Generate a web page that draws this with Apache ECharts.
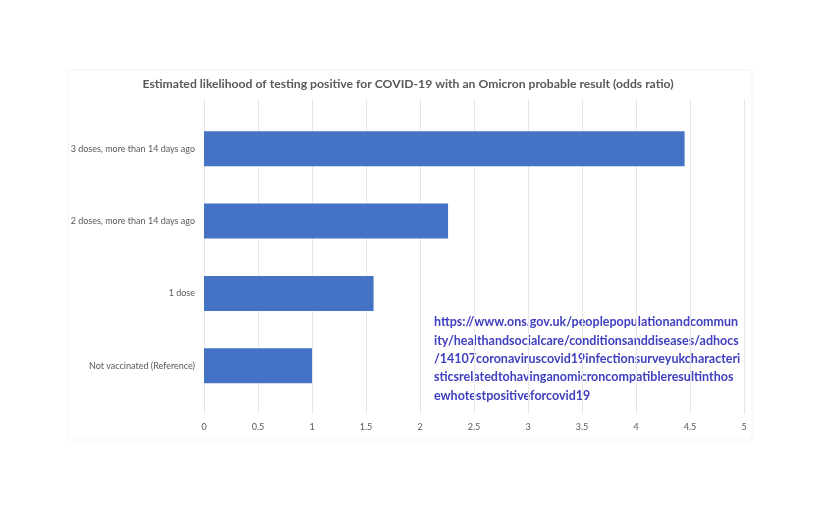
<!DOCTYPE html>
<html>
<head>
<meta charset="utf-8">
<script src="https://cdn.jsdelivr.net/npm/echarts@6/dist/echarts.min.js"></script>
<style>
  html, body { margin: 0; padding: 0; background: #fff; }
  #chart { width: 816px; height: 509px; }
</style>
</head>
<body>
<div id="chart"></div>
<script>
// 数据
const categories = [
    '3 doses, more than 14 days ago',
    '2 doses, more than 14 days ago',
    '1 dose',
    'Not vaccinated (Reference)'
];
const oddsRatio = [4.45, 2.26, 1.57, 1.0];
const xTicks = [0, 0.5, 1, 1.5, 2, 2.5, 3, 3.5, 4, 4.5, 5];

const sourceUrl = [
    'https://www.ons.gov.uk/peoplepopulationandcommun',
    'ity/healthandsocialcare/conditionsanddiseases/adhocs',
    '/14107coronaviruscovid19infectionsurveyukcharacteri',
    'sticsrelatedtohavinganomicroncompatibleresultinthos',
    'ewhotestpositiveforcovid19'
];

const chartDom = document.getElementById('chart');
const myChart = echarts.init(chartDom);

const textColor = '#595959';
const fontFamily = 'Lato, "Open Sans", sans-serif';

const option = {
    animation: false,
    backgroundColor: '#ffffff',
    title: {
        text: 'Estimated likelihood of testing positive for COVID-19 with an Omicron probable result (odds ratio)',
        left: 'center',
        top: 73,
        textStyle: {
            color: textColor,
            fontSize: 12.2,
            fontWeight: 'bold',
            fontFamily: fontFamily
        }
    },
    grid: [
        // 柱子
        { left: 204, right: 72, top: 112.6, height: 289.3 },
        // 网格线和刻度
        { left: 204, right: 72, top: 99, bottom: 95 }
    ],
    xAxis: [{
        gridIndex: 0,
        type: 'value',
        min: 0,
        max: 5,
        interval: 0.5,
        axisLine: { show: false },
        axisTick: { show: false },
        axisLabel: { show: false },
        splitLine: { show: false }
    }, {
        gridIndex: 1,
        type: 'value',
        min: xTicks[0],
        max: xTicks[xTicks.length - 1],
        interval: 0.5,
        axisLine: { show: false },
        axisTick: { show: false },
        axisLabel: {
            color: textColor,
            fontSize: 9,
            fontFamily: fontFamily,
            margin: 9
        },
        splitLine: {
            lineStyle: { color: '#e6e6e6', width: 1 }
        }
    }],
    yAxis: [{
        gridIndex: 0,
        type: 'category',
        data: categories,
        inverse: true,
        axisLine: { show: false },
        axisTick: { show: false },
        axisLabel: {
            color: textColor,
            fontSize: 9,
            fontFamily: fontFamily,
            margin: 9
        }
    }, {
        gridIndex: 1,
        type: 'value',
        min: 0,
        max: 1,
        show: false
    }],
    series: [{
        type: 'bar',
        xAxisIndex: 0,
        yAxisIndex: 0,
        data: oddsRatio,
        barWidth: 35,
        itemStyle: { color: '#4472C4' }
    }],
    graphic: [{
        type: 'rect',
        shape: { x: 68, y: 70, width: 684, height: 370 },
        style: { fill: 'none', stroke: '#f4f4f4', lineWidth: 1 },
        silent: true
    }, {
        type: 'text',
        left: 434,
        top: 313,
        style: {
            text: sourceUrl.join('\n'),
            fill: '#3F3FBF',
            fontSize: 12.5,
            fontWeight: 'bold',
            fontFamily: fontFamily,
            lineHeight: 18.4
        }
    }]
};

myChart.setOption(option);

window.addEventListener('resize', function() {
    myChart.resize();
});
</script>
</body>
</html>
